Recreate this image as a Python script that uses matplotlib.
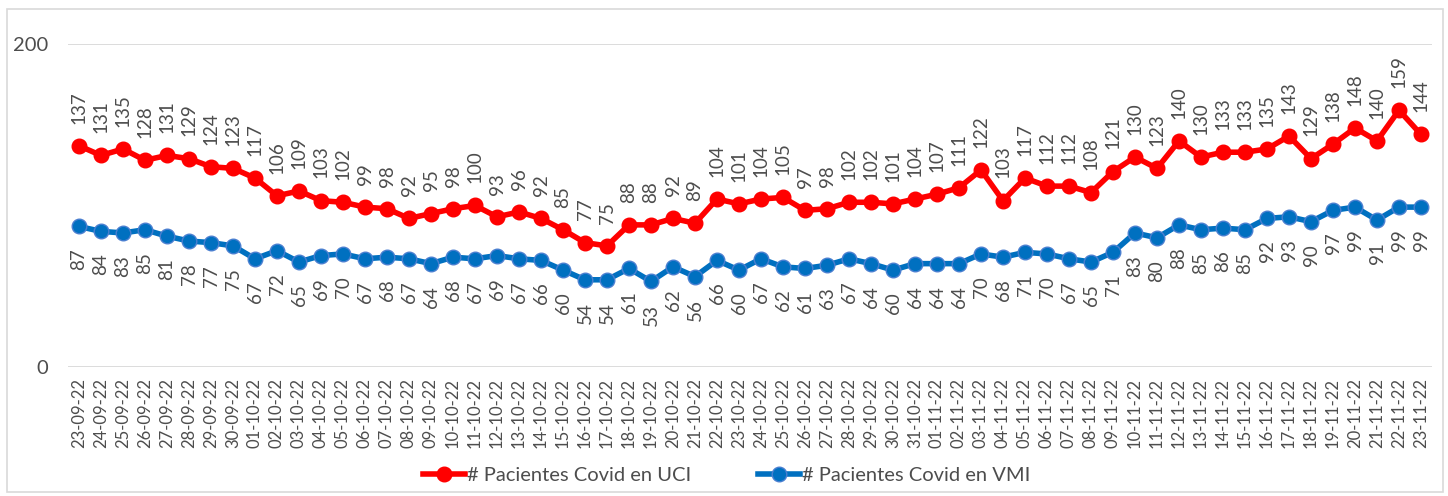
import matplotlib.pyplot as plt
from matplotlib.patches import Rectangle
from matplotlib.lines import Line2D

plt.rcParams['font.family'] = ['Lato', 'DejaVu Sans']

fechas = ['23-09-22', '24-09-22', '25-09-22', '26-09-22', '27-09-22', '28-09-22', '29-09-22', '30-09-22',
          '01-10-22', '02-10-22', '03-10-22', '04-10-22', '05-10-22', '06-10-22', '07-10-22', '08-10-22',
          '09-10-22', '10-10-22', '11-10-22', '12-10-22', '13-10-22', '14-10-22', '15-10-22', '16-10-22',
          '17-10-22', '18-10-22', '19-10-22', '20-10-22', '21-10-22', '22-10-22', '23-10-22', '24-10-22',
          '25-10-22', '26-10-22', '27-10-22', '28-10-22', '29-10-22', '30-10-22', '31-10-22',
          '01-11-22', '02-11-22', '03-11-22', '04-11-22', '05-11-22', '06-11-22', '07-11-22', '08-11-22',
          '09-11-22', '10-11-22', '11-11-22', '12-11-22', '13-11-22', '14-11-22', '15-11-22', '16-11-22',
          '17-11-22', '18-11-22', '19-11-22', '20-11-22', '21-11-22', '22-11-22', '23-11-22']

# pacientes en UCI
uci = [137, 131, 135, 128, 131, 129, 124, 123,
       117, 106, 109, 103, 102, 99, 98, 92, 95, 98, 100, 93, 96, 92, 85, 77, 75, 88, 88, 92, 89,
       104, 101, 104, 105, 97, 98, 102, 102, 101, 104,
       107, 111, 122, 103, 117, 112, 112, 108, 121, 130, 123, 140, 130, 133, 133, 135, 143, 129,
       138, 148, 140, 159, 144]

# pacientes en VMI
vmi = [87, 84, 83, 85, 81, 78, 77, 75,
       67, 72, 65, 69, 70, 67, 68, 67, 64, 68, 67, 69, 67, 66, 60, 54, 54, 61, 53, 62, 56,
       66, 60, 67, 62, 61, 63, 67, 64, 60, 64,
       64, 64, 70, 68, 71, 70, 67, 65, 71, 83, 80, 88, 85, 86, 85, 92, 93, 90,
       97, 99, 91, 99, 99]

ROJO = '#FF0000'
AZUL = '#0070C0'
GRIS = '#4D4D4D'

fig = plt.figure(figsize=(14.48, 4.96), dpi=100)
ax = fig.add_axes([68 / 1448, 129 / 496, 1364 / 1448, 323 / 496])

x = list(range(len(fechas)))
ax.plot(x, uci, color=ROJO, lw=4, marker='o', ms=10.5, mfc=ROJO, mec=ROJO, zorder=3)
ax.plot(x, vmi, color=AZUL, lw=4, marker='o', ms=10.5, mfc=AZUL, mec='#4A7FD0', mew=1, zorder=3)

for i in x:
    ax.annotate(str(uci[i]), (i, uci[i]), xytext=(0, 16), textcoords='offset points',
                rotation=90, ha='center', va='bottom', fontsize=13.5, color=GRIS)
    ax.annotate(str(vmi[i]), (i, vmi[i]), xytext=(0, -16), textcoords='offset points',
                rotation=90, ha='center', va='top', fontsize=13.5, color=GRIS)

ax.set_xlim(-0.5, len(fechas) - 0.5)
ax.set_ylim(0, 200)
ax.set_yticks([0, 200])
ax.set_xticks(x)
ax.set_xticklabels(fechas, rotation=90, fontsize=12, color=GRIS)
ax.tick_params(axis='y', labelsize=14.5, labelcolor=GRIS, length=0, pad=14)
ax.tick_params(axis='x', length=0, pad=8)
ax.grid(axis='y', color='#D9D9D9', lw=1.3)
ax.set_axisbelow(True)
for s in ax.spines.values():
    s.set_visible(False)

handles = [Line2D([], [], color=ROJO, lw=4, marker='o', ms=10.5),
           Line2D([], [], color=AZUL, lw=4, marker='o', ms=10.5, mec='#4A7FD0')]
fig.legend(handles, ['# Pacientes Covid en UCI', '# Pacientes Covid en VMI'],
           loc='center', bbox_to_anchor=(727 / 1448, 1 - 475 / 496), ncol=2, frameon=False,
           fontsize=14.5, labelcolor=GRIS, handlelength=2.1, handletextpad=0.1, columnspacing=3.3)

fig.patches.append(Rectangle((7 / 1448, 4 / 496), 1436 / 1448, 483 / 496, transform=fig.transFigure,
                             fill=False, ec='#D9D9D9', lw=1.2))

fig.savefig('out.png', dpi=100)
